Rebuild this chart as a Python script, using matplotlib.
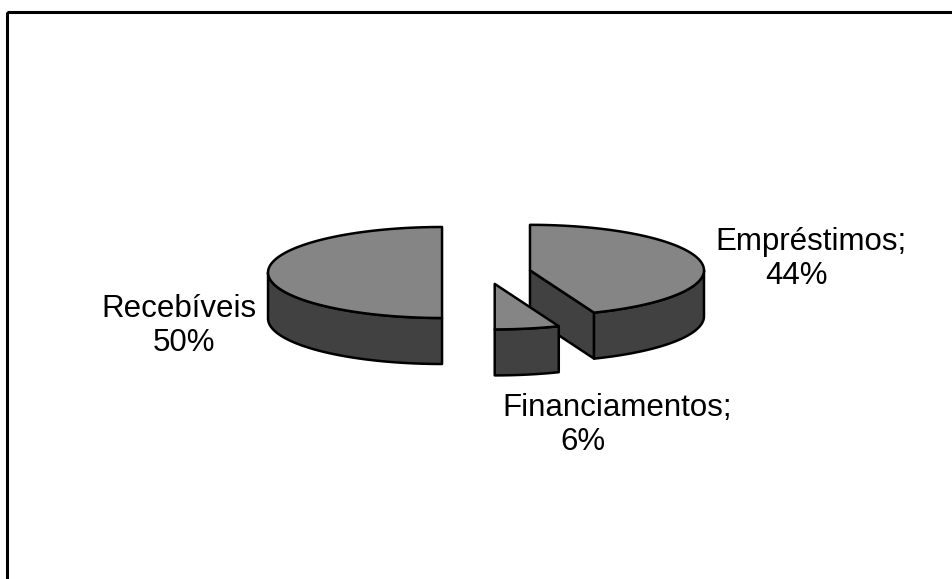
import matplotlib

matplotlib.use("Agg")
import matplotlib.pyplot as plt  # noqa: E402
import numpy as np  # noqa: E402
from matplotlib.patches import Polygon, Rectangle  # noqa: E402

# dados do grafico
labels = ["Empréstimos;", "Financiamentos;", "Recebíveis"]
values = [44, 6, 50]

# layout (pixels)
W, H = 953, 579
CX, CY = 486.4, 272.5
A, B = 174.0, 45.5
DEPTH = 46.0
EXPLODE = 0.255
TOP = "#858585"
SIDE = "#414141"
LW = 1.8
# (x linha 1, x linha 2, topo linha 1)
label_pos = [(715, 765, 227), (502, 560, 393), (101, 153, 294)]
LINE_GAP = 34


def pt(cx, cy, th, dy=0.0):
    return cx + A * np.cos(th), cy - B * np.sin(th) + dy


def main() -> None:
    fig = plt.figure(figsize=(W / 100, H / 100), dpi=100)
    ax = fig.add_axes([0, 0, 1, 1])
    ax.set_xlim(0, W)
    ax.set_ylim(H, 0)
    ax.axis("off")

    total = float(sum(values))
    start = np.pi / 2
    slices = []
    for v in values:
        t2 = start
        t1 = start - 2 * np.pi * v / total
        mid = (t1 + t2) / 2
        cx = CX + A * EXPLODE * np.cos(mid)
        cy = CY - B * EXPLODE * np.sin(mid)
        slices.append((t1, t2, cx, cy))
        start = t1

    # desenha de tras para frente
    order = sorted(range(len(slices)), key=lambda i: slices[i][3])
    for i in order:
        t1, t2, cx, cy = slices[i]
        kw = dict(facecolor=SIDE, edgecolor="black", lw=LW, joinstyle="round")
        # faces radiais visiveis
        for th, vis in ((t1, np.cos(t1) > 1e-6), (t2, np.cos(t2) < -1e-6)):
            if vis:
                ex, ey = pt(cx, cy, th)
                poly = [(cx, cy), (ex, ey), (ex, ey + DEPTH), (cx, cy + DEPTH)]
                ax.add_patch(Polygon(poly, closed=True, **kw))
        # parede externa (metade da frente)
        segs = []
        for off in (0, 2 * np.pi, -2 * np.pi):
            a0, a1 = max(t1 + off, -np.pi), min(t2 + off, 0)
            if a1 > a0:
                segs.append((a0, a1))
        for a0, a1 in segs:
            th = np.linspace(a0, a1, 80)
            xs, ys = pt(cx, cy, th)
            poly = np.column_stack([np.r_[xs, xs[::-1]], np.r_[ys, ys[::-1] + DEPTH]])
            ax.add_patch(Polygon(poly, closed=True, **kw))
        # topo
        th = np.linspace(t1, t2, 120)
        xs, ys = pt(cx, cy, th)
        poly = np.column_stack([np.r_[cx, xs], np.r_[cy, ys]])
        ax.add_patch(Polygon(poly, closed=True, facecolor=TOP, edgecolor="black",
                             lw=LW, joinstyle="round"))

    for name, v, (x1, x2, y) in zip(labels, values, label_pos):
        ax.text(x1, y, name, ha="left", va="top", fontsize=22.5,
                family="Liberation Sans")
        ax.text(x2, y + LINE_GAP, f"{v}%", ha="left", va="top", fontsize=22.5,
                family="Liberation Sans")

    # moldura
    ax.add_patch(Rectangle((7.5, 11.5), W, H, fill=False, edgecolor="black",
                           lw=2.2, clip_on=False))

    fig.savefig("out.png", dpi=100)


if __name__ == "__main__":
    main()
